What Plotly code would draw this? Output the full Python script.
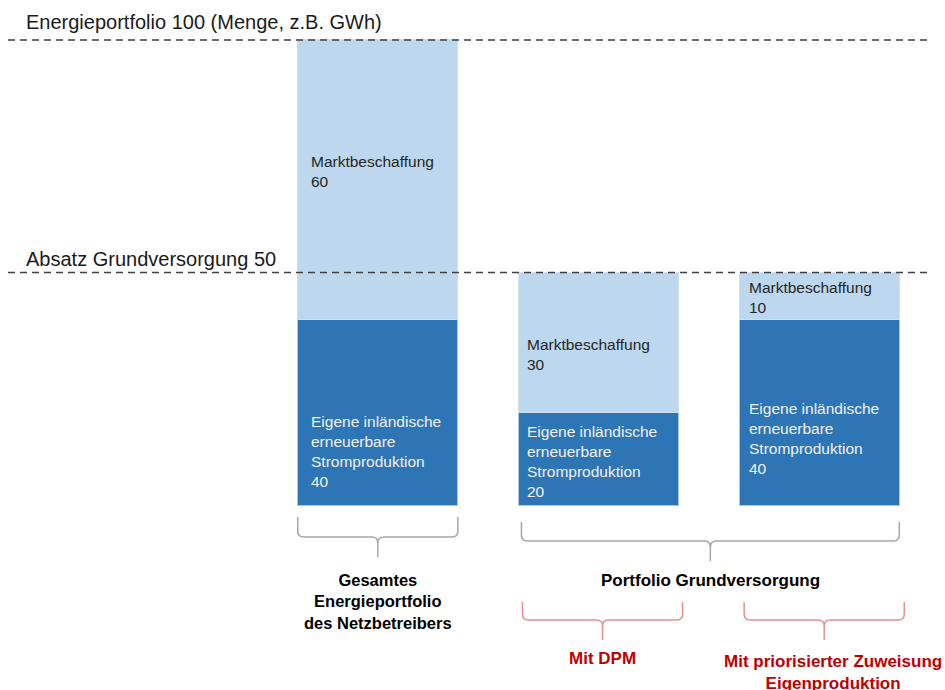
import plotly.graph_objects as go

# ---------------- data ----------------
categories = ["Gesamtes Energieportfolio des Netzbetreibers", "Mit DPM",
              "Mit priorisierter Zuweisung Eigenproduktion"]
eigen = [40, 20, 40]          # Eigene inländische erneuerbare Stromproduktion
markt = [60, 30, 10]          # Marktbeschaffung
total_level = 100             # Energieportfolio
grund_level = 50              # Absatz Grundversorgung
positions = [0, 1, 2]

# ---------------- layout helpers ----------------
W, H = 945, 690
XMIN, XMAX = -1.712, 2.570
YMIN, YMAX = -39.78, 108.60
BAR_W = 0.7256

LIGHT = "#BDD7EE"
DARK = "#2E75B6"
FONT = "Liberation Sans, Arial, sans-serif"
GRAY = "#a6a6a6"
RED_LINE = "#e58f8f"
RED_TEXT = "#c00000"


def xpx(x):
    return (x - XMIN) / (XMAX - XMIN) * W


def P(px, py):
    return f"{px / W:.5f},{1 - py / H:.5f}"


def brace(x0, x1, ytop, ymid, ytip, r=6):
    xc = (x0 + x1) / 2
    return (f"M {P(x0, ytop)} L {P(x0, ymid - r)} Q {P(x0, ymid)} {P(x0 + r, ymid)} "
            f"L {P(xc - r, ymid)} Q {P(xc, ymid)} {P(xc, ymid + r)} L {P(xc, ytip)} "
            f"M {P(x1, ytop)} L {P(x1, ymid - r)} Q {P(x1, ymid)} {P(x1 - r, ymid)} "
            f"L {P(xc + r, ymid)} Q {P(xc, ymid)} {P(xc, ymid + r)}")


fig = go.Figure()
fig.add_trace(go.Bar(x=positions, y=eigen, width=BAR_W, marker_color=DARK,
                     marker_line=dict(width=1, color="#a9c8e6"),
                     name="Eigene inländische erneuerbare Stromproduktion",
                     customdata=categories, hovertemplate="%{customdata}: %{y}<extra></extra>"))
fig.add_trace(go.Bar(x=positions, y=markt, width=BAR_W, marker_color=LIGHT,
                     marker_line=dict(width=1, color="#cfe2f3"),
                     name="Marktbeschaffung",
                     customdata=categories, hovertemplate="%{customdata}: %{y}<extra></extra>"))

shapes = []
annotations = []

# reference dashed lines
for lvl in (total_level, grund_level):
    shapes.append(dict(type="line", xref="paper", yref="y", x0=8 / W, x1=932 / W,
                       y0=lvl, y1=lvl, layer="above",
                       line=dict(color="#404040", width=1.3, dash="7px,5px")))

annotations.append(dict(xref="paper", yref="y", x=24 / W, y=total_level, yshift=18,
                        xanchor="left", yanchor="middle", showarrow=False,
                        text=f"Energieportfolio {total_level} (Menge, z.B. GWh)",
                        font=dict(family=FONT, size=20, color="#1a1a1a")))
annotations.append(dict(xref="paper", yref="y", x=24 / W, y=grund_level, yshift=14,
                        xanchor="left", yanchor="middle", showarrow=False,
                        text=f"Absatz Grundversorgung {grund_level}",
                        font=dict(family=FONT, size=20, color="#1a1a1a")))

# segment labels
dark_frac = [0.29, 0.47, 0.36]
light_frac = [0.53, 0.41, 0.46]
x_off = [11, 7, 8]
for i, x in enumerate(positions):
    left = x - BAR_W / 2
    annotations.append(dict(xref="x", yref="y", x=left, xshift=x_off[i],
                            y=eigen[i] * dark_frac[i], xanchor="left", yanchor="middle",
                            align="left", showarrow=False,
                            text=f"Eigene inländische<br>erneuerbare<br>Stromproduktion<br>{eigen[i]}",
                            font=dict(family=FONT, size=15.5, color="#f2f2f2")))
    annotations.append(dict(xref="x", yref="y", x=left, xshift=x_off[i],
                            y=eigen[i] + markt[i] * light_frac[i], xanchor="left",
                            yanchor="middle", align="left", showarrow=False,
                            text=f"Marktbeschaffung<br>{markt[i]}",
                            font=dict(family=FONT, size=15.5, color="#262626")))

# braces
l0, r0 = xpx(positions[0] - BAR_W / 2), xpx(positions[0] + BAR_W / 2)
l1, r1 = xpx(positions[1] - BAR_W / 2), xpx(positions[1] + BAR_W / 2)
l2, r2 = xpx(positions[2] - BAR_W / 2), xpx(positions[2] + BAR_W / 2)

shapes.append(dict(type="path", xref="paper", yref="paper", path=brace(l0, r0, 517, 537, 557),
                   line=dict(color=GRAY, width=1.5)))
shapes.append(dict(type="path", xref="paper", yref="paper", path=brace(l1 + 3, r2, 522, 541, 561),
                   line=dict(color=GRAY, width=1.5)))
shapes.append(dict(type="path", xref="paper", yref="paper", path=brace(l1 + 4, r1 + 4, 602, 620, 640),
                   line=dict(color=RED_LINE, width=1.5)))
shapes.append(dict(type="path", xref="paper", yref="paper", path=brace(l2 + 5, r2 + 5, 602, 620, 640),
                   line=dict(color=RED_LINE, width=1.5)))

# group labels
annotations.append(dict(xref="paper", yref="paper", x=(l0 + r0) / 2 / W, y=1 - 601 / H,
                        xanchor="center", yanchor="middle", showarrow=False, align="center",
                        text="<b>Gesamtes<br>Energieportfolio<br>des Netzbetreibers</b>",
                        font=dict(family=FONT, size=16.5, color="#000000")))
annotations.append(dict(xref="paper", yref="paper", x=(l1 + 3 + r2) / 2 / W, y=1 - 580 / H,
                        xanchor="center", yanchor="middle", showarrow=False,
                        text="<b>Portfolio Grundversorgung</b>",
                        font=dict(family=FONT, size=17, color="#000000")))
annotations.append(dict(xref="paper", yref="paper", x=(l1 + r1 + 8) / 2 / W, y=1 - 658 / H,
                        xanchor="center", yanchor="middle", showarrow=False,
                        text="<b>Mit DPM</b>",
                        font=dict(family=FONT, size=17, color=RED_TEXT)))
annotations.append(dict(xref="paper", yref="paper", x=833 / W, y=1 - 672.5 / H,
                        xanchor="center", yanchor="middle", showarrow=False, align="center",
                        text="<b>Mit priorisierter Zuweisung<br>Eigenproduktion</b>",
                        font=dict(family=FONT, size=17, color=RED_TEXT)))

fig.update_layout(
    width=W, height=H, barmode="stack", showlegend=False,
    margin=dict(l=0, r=0, t=0, b=0),
    paper_bgcolor="white", plot_bgcolor="white",
    xaxis=dict(range=[XMIN, XMAX], visible=False, fixedrange=True),
    yaxis=dict(range=[YMIN, YMAX], visible=False, fixedrange=True),
    shapes=shapes, annotations=annotations,
)

fig.write_html("out.html", config={"displayModeBar": False},
               post_script="document.body.style.margin='0';")
